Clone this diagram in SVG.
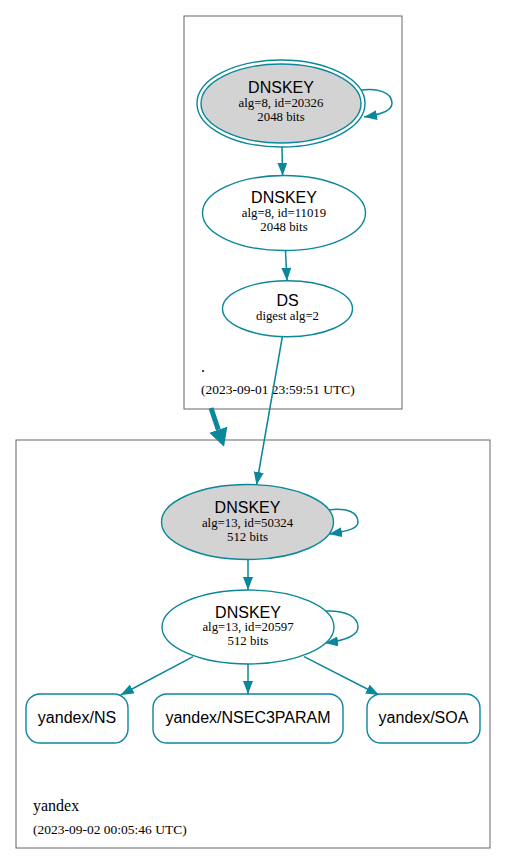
<svg xmlns="http://www.w3.org/2000/svg" width="507" height="865" viewBox="0 0 507 865">
<style>
.cl{fill:none;stroke:#666;stroke-width:1}
.nd{stroke:#0a879a;stroke-width:1.4;fill:#fff}
.key{fill:#d3d3d3}
.e{fill:none;stroke:#0a879a;stroke-width:1.5}
.h{font-family:"Liberation Sans",Arial,sans-serif;font-size:16px;fill:#000;text-anchor:middle}
.t{font-family:"Liberation Serif","Times New Roman",serif;font-size:12.8px;fill:#000;text-anchor:middle}
.l{font-family:"Liberation Serif","Times New Roman",serif;fill:#000}
</style>
<defs>
<marker id="ah" markerUnits="userSpaceOnUse" markerWidth="14" markerHeight="11" refX="13" refY="5" orient="auto"><path d="M0,0 L13,5 L0,10 z" fill="#0a879a"/></marker>
<marker id="ahb" markerUnits="userSpaceOnUse" markerWidth="20" markerHeight="20" refX="0" refY="9.5" orient="auto"><path d="M0,0 L18,9.5 L0,19 z" fill="#0a879a"/></marker>
</defs>
<g id="cluster-root">
<rect class="cl" x="184" y="16" width="218" height="393"/>
<text class="l" x="201" y="372" font-size="16">.</text>
<text class="l" x="201" y="394" font-size="13.5">(2023-09-01 23:59:51 UTC)</text>
</g>
<g id="cluster-yandex">
<rect class="cl" x="16" y="440" width="474" height="408"/>
<text class="l" x="33" y="811" font-size="16">yandex</text>
<text class="l" x="33" y="834" font-size="13.5">(2023-09-02 00:05:46 UTC)</text>
</g>
<g id="connectors">
<path class="e" d="M282,147 L282.6,175.7" marker-end="url(#ah)"/>
<path class="e" d="M358,91 C376,87 392,92 392,103 C392,110 384,114 364,117" marker-end="url(#ah)"/>
<path class="e" d="M285.5,251 L287,280.7" marker-end="url(#ah)"/>
<path class="e" d="M282.3,337 L256.5,485" marker-end="url(#ah)"/>
<path d="M211,408 L218.3,429.7" fill="none" stroke="#0a879a" stroke-width="5" marker-end="url(#ahb)"/>
<path class="e" d="M328,510 C348,507 358,513 358,522 C358,528 350,531 329,534" marker-end="url(#ah)"/>
<path class="e" d="M248,560 L248,590" marker-end="url(#ah)"/>
<path class="e" d="M325,611 C346,610 358,617 358,627 C358,634 350,640 325,643" marker-end="url(#ah)"/>
<path class="e" d="M193,656.7 L120.7,695" marker-end="url(#ah)"/>
<path class="e" d="M248,664 L248,694" marker-end="url(#ah)"/>
<path class="e" d="M304,656.7 L379,695" marker-end="url(#ah)"/>
</g>
<g id="dnskey-20326">
<ellipse class="nd" cx="281" cy="103.5" rx="84" ry="43.5"/>
<ellipse class="nd key" cx="281" cy="103.5" rx="80" ry="39.5"/>
<text class="h" x="281" y="92.5">DNSKEY</text>
<text class="t" x="281" y="106.5">alg=8, id=20326</text>
<text class="t" x="281" y="120.5">2048 bits</text>
</g>
<g id="dnskey-11019">
<ellipse class="nd" cx="284" cy="213" rx="81.5" ry="37.5"/>
<text class="h" x="284" y="202.5">DNSKEY</text>
<text class="t" x="284" y="216.5">alg=8, id=11019</text>
<text class="t" x="284" y="230.5">2048 bits</text>
</g>
<g id="ds">
<ellipse class="nd" cx="287.5" cy="308.7" rx="65" ry="28"/>
<text class="h" x="287.5" y="305.5">DS</text>
<text class="t" x="287.5" y="319.5">digest alg=2</text>
</g>
<g id="dnskey-50324">
<ellipse class="nd key" cx="247.5" cy="522" rx="86" ry="37.5"/>
<text class="h" x="247.5" y="512.5">DNSKEY</text>
<text class="t" x="247.5" y="526.5">alg=13, id=50324</text>
<text class="t" x="247.5" y="540.5">512 bits</text>
</g>
<g id="dnskey-20597">
<ellipse class="nd" cx="248" cy="627" rx="86" ry="37"/>
<text class="h" x="248" y="617.5">DNSKEY</text>
<text class="t" x="248" y="631">alg=13, id=20597</text>
<text class="t" x="248" y="645">512 bits</text>
</g>
<g id="yandex-ns">
<rect class="nd" x="26" y="694" width="102" height="49" rx="14"/>
<text class="h" x="77" y="723">yandex/NS</text>
</g>
<g id="yandex-nsec3param">
<rect class="nd" x="153" y="694" width="190" height="49" rx="14"/>
<text class="h" x="248" y="723">yandex/NSEC3PARAM</text>
</g>
<g id="yandex-soa">
<rect class="nd" x="367" y="694" width="113" height="49" rx="14"/>
<text class="h" x="423.5" y="723">yandex/SOA</text>
</g>
</svg>
